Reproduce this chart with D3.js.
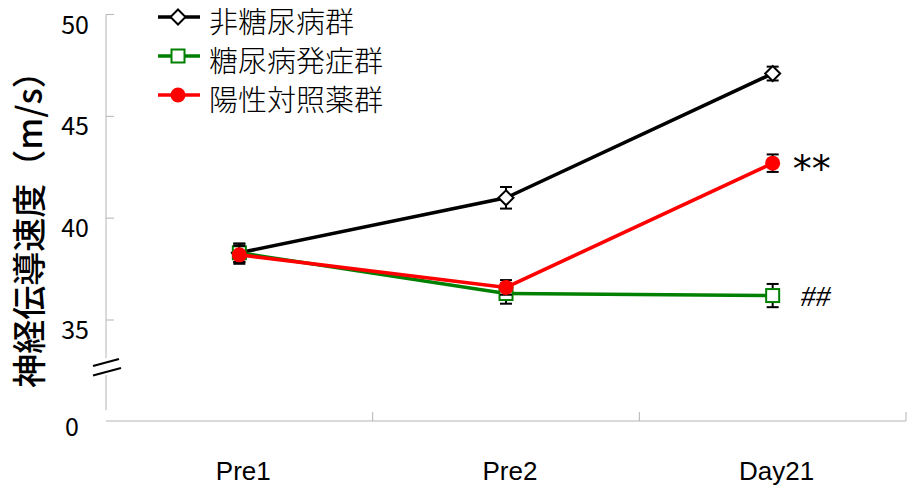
<!DOCTYPE html>
<html><head><meta charset="utf-8">
<script src="https://cdn.jsdelivr.net/npm/d3@7"></script>
<style>
html,body{margin:0;padding:0;background:#fff;}
svg{display:block;font-family:"Noto Sans CJK JP","Noto Sans",sans-serif;}
</style></head>
<body>
<svg id="chart" width="921" height="492"></svg>
<script>
const categories = ["Pre1", "Pre2", "Day21"];
const seriesNames = ["非糖尿病群", "糖尿病発症群", "陽性対照薬群"];
const nonDiabetic = [38.3, 41.0, 47.1];
const nonDiabeticErr = [0.45, 0.53, 0.34];
const diabetic = [38.3, 36.3, 36.2];
const diabeticErr = [0.45, 0.5, 0.57];
const positive = [38.2, 36.6, 42.7];
const positiveErr = [0.44, 0.36, 0.43];
const yTicks = [35, 40, 45, 50];
const zeroLabel = "0";
const yTitle = "神経伝導速度（m/s）";
const marks = [{text: "**", series: 2}, {text: "##", series: 1}];

const svg = d3.select("#chart");
const x = d3.scaleBand().domain(categories).range([106, 906]);
const y = d3.scaleLinear().domain([0, 35, 50]).range([421, 320, 14.5]);
const axisColor = "#b4b4b4";

const series = [
  {name: seriesNames[0], values: nonDiabetic, err: nonDiabeticErr, color: "#000000", marker: "diamond", width: 3.6},
  {name: seriesNames[1], values: diabetic, err: diabeticErr, color: "#008000", marker: "square", width: 3.4},
  {name: seriesNames[2], values: positive, err: positiveErr, color: "#ff0000", marker: "circle", width: 3.6}
];

// y axis (with break)
const yAxisG = svg.append("g");
yAxisG.append("line").attr("x1", 106).attr("x2", 106).attr("y1", y(50)).attr("y2", 358).attr("stroke", axisColor);
yAxisG.append("line").attr("x1", 106).attr("x2", 106).attr("y1", 375).attr("y2", 410).attr("stroke", axisColor);
yTicks.forEach(t => {
  yAxisG.append("line").attr("x1", 106).attr("x2", 114).attr("y1", y(t)).attr("y2", y(t)).attr("stroke", axisColor);
  yAxisG.append("text").attr("x", 89).attr("y", y(t) + 8).attr("text-anchor", "end")
    .attr("dominant-baseline", "central").attr("font-size", 25).attr("fill", "#000").text(t);
});
yAxisG.append("text").attr("x", 79).attr("y", y(0) + 4).attr("text-anchor", "end")
  .attr("dominant-baseline", "central").attr("font-size", 25).attr("fill", "#000").text(zeroLabel);
// break marks
[[93, 366, 119, 359], [93, 375.5, 121, 368]].forEach(b => {
  yAxisG.append("line").attr("x1", b[0]).attr("y1", b[1]).attr("x2", b[2]).attr("y2", b[3])
    .attr("stroke", "#000").attr("stroke-width", 2);
});

// x axis
const xAxisG = svg.append("g");
xAxisG.append("line").attr("x1", 106).attr("x2", 906).attr("y1", y(0)).attr("y2", y(0)).attr("stroke", axisColor);
categories.forEach(c => {
  const xe = x(c) + x.bandwidth();
  xAxisG.append("line").attr("x1", xe).attr("x2", xe).attr("y1", y(0)).attr("y2", y(0) - 9).attr("stroke", axisColor);
  xAxisG.append("text").attr("x", x(c) + x.bandwidth() / 2 + 4).attr("y", 480)
    .attr("text-anchor", "middle").attr("font-family", "Liberation Sans, Arial, sans-serif")
    .attr("font-size", 26).attr("fill", "#000").text(c);
});

// y title
svg.append("text").attr("transform", "translate(27,221) rotate(-90)").attr("text-anchor", "middle")
  .attr("dominant-baseline", "central")
  .attr("font-size", 34).attr("font-weight", 500).attr("fill", "#000").text(yTitle);

const cx = c => x(c) + x.bandwidth() / 2;

function drawMarker(g, type, px, py, color) {
  if (type === "diamond") {
    g.append("path").attr("d", `M${px},${py - 7.5}L${px + 7.5},${py}L${px},${py + 7.5}L${px - 7.5},${py}Z`)
      .attr("fill", "#fff").attr("stroke", color).attr("stroke-width", 2);
  } else if (type === "square") {
    g.append("rect").attr("x", px - 6.5).attr("y", py - 6.5).attr("width", 13).attr("height", 13)
      .attr("fill", "#fff").attr("stroke", color).attr("stroke-width", 2);
  } else {
    g.append("circle").attr("cx", px).attr("cy", py).attr("r", 7.5).attr("fill", color);
  }
}

const line = d3.line().x((d, i) => cx(categories[i])).y(d => y(d));
series.forEach(s => {
  const g = svg.append("g");
  s.values.forEach((v, i) => {
    const px = cx(categories[i]);
    const eg = g.append("g").attr("stroke", "#000").attr("stroke-width", 2);
    eg.append("line").attr("x1", px).attr("x2", px).attr("y1", y(v - s.err[i])).attr("y2", y(v + s.err[i]));
    eg.append("line").attr("x1", px - 6).attr("x2", px + 6).attr("y1", y(v - s.err[i])).attr("y2", y(v - s.err[i]));
    eg.append("line").attr("x1", px - 6).attr("x2", px + 6).attr("y1", y(v + s.err[i])).attr("y2", y(v + s.err[i]));
  });
  g.append("path").attr("d", line(s.values)).attr("fill", "none").attr("stroke", s.color).attr("stroke-width", s.width);
  s.values.forEach((v, i) => drawMarker(g, s.marker, cx(categories[i]), y(v), s.color));
});

// significance marks
svg.append("text").attr("x", cx("Day21") + 20).attr("y", y(positive[2]) + 6).attr("dominant-baseline", "central")
  .attr("font-size", 38).attr("font-family", "DejaVu Sans, sans-serif").attr("fill", "#000").text(marks[0].text);
svg.append("text").attr("x", cx("Day21") + 28).attr("y", y(diabetic[2])).attr("dominant-baseline", "central")
  .attr("font-size", 30).attr("font-style", "italic").attr("font-family", "Liberation Serif, serif").attr("fill", "#000").text(marks[1].text);

// legend
const legend = svg.append("g");
series.forEach((s, i) => {
  const ly = 17 + i * 39;
  legend.append("line").attr("x1", 158).attr("x2", 200).attr("y1", ly).attr("y2", ly).attr("stroke", s.color).attr("stroke-width", 3.5);
  drawMarker(legend, s.marker, 178, ly, s.color);
  legend.append("text").attr("x", 209).attr("y", ly + 3).attr("dominant-baseline", "central")
    .attr("font-size", 29).attr("font-weight", 300).attr("fill", "#000").text(s.name);
});
</script>
</body></html>
